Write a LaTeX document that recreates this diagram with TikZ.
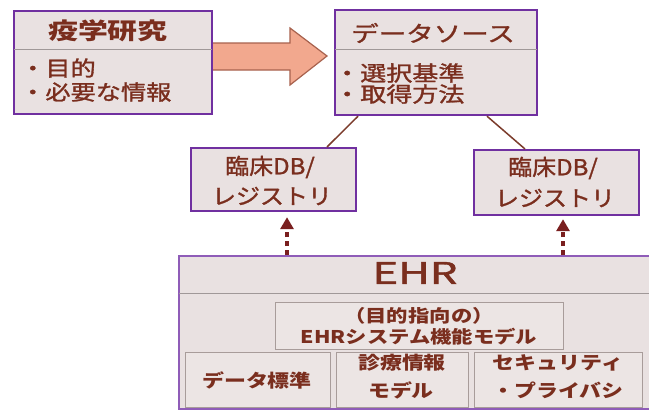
\documentclass[tikz,border=0pt]{standalone}
\usepackage{fontspec}
\setmainfont{Noto Sans CJK JP}
\newfontface\jpmid{Noto Sans CJK JP}[FakeBold=1.2]
\usetikzlibrary{arrows.meta}
\definecolor{boxfill}{HTML}{E9E1E1}
\definecolor{boxline}{HTML}{7030A0}
\definecolor{ehrline}{HTML}{8F5CB8}
\definecolor{txt}{HTML}{7A2E1E}
\definecolor{divline}{HTML}{A09898}
\definecolor{arrowfill}{HTML}{F2A88E}
\definecolor{arrowline}{HTML}{A8624E}
\definecolor{conn}{HTML}{7B3B2B}
\definecolor{dotc}{HTML}{7A1F1F}
\definecolor{innerline}{HTML}{A89C9A}
\definecolor{innerfill}{HTML}{ECE5E4}
\newcommand{\hsc}[2]{\scalebox{#1}[1]{#2}}
\newcommand{\fsz}[1]{\fontsize{#1}{#1}\selectfont}
\begin{document}
\begin{tikzpicture}[x=1pt,y=-1pt,
  mainbox/.style={draw=boxline,line width=2.2pt,fill=boxfill,inner sep=0pt,anchor=north west},
  ehrbox/.style={draw=ehrline,line width=2pt,fill=boxfill,inner sep=0pt,anchor=north west},
  innerbox/.style={draw=innerline,line width=1.1pt,fill=innerfill,inner sep=0pt,anchor=north west},
  divider/.style={draw=divline,line width=1pt},
  lbl/.style={inner sep=0pt,text=txt},
  conn/.style={draw=conn,line width=1.5pt},
  dotarr/.style={draw=dotc,line width=4pt,dash pattern=on 5pt off 4pt,-{Triangle[width=13pt,length=12pt]}},
  blockarrow/.style={fill=arrowfill,draw=arrowline,line width=1.2pt,line join=miter}
]
\useasboundingbox (0,0) rectangle (649,410);
\fill[white] (0,0) rectangle (649,410);

% block arrow
\draw[blockarrow] (205,43) -- (290,43) -- (290,28) -- (327,56) -- (290,85) -- (290,70) -- (205,70) -- cycle;

% box 1
\node[mainbox,minimum width=198pt,minimum height=103pt] (b1) at (13,10) {};
\draw[divider] ([yshift=-39pt,xshift=1.1pt]b1.north west) -- ([yshift=-39pt,xshift=-1.1pt]b1.north east);
\node[lbl] (t1) at (108,31) {\fsz{23}\bfseries\hsc{1.3}{疫学研究}};
\node[lbl,anchor=west] (b1a) at (20,68) {\fsz{21}\jpmid\hsc{1.2}{・目的}};
\node[lbl,anchor=west] (b1b) at (20,92) {\fsz{21}\jpmid\hsc{1.2}{・必要な情報}};

% box 2
\node[mainbox,minimum width=202pt,minimum height=105pt] (b2) at (334,9) {};
\draw[divider] ([yshift=-40pt,xshift=1.1pt]b2.north west) -- ([yshift=-40pt,xshift=-1.1pt]b2.north east);
\node[lbl] (t2) at (433,33) {\fsz{22}\jpmid\hsc{1.25}{データソース}};
\node[lbl,anchor=west] (b2a) at (334,73) {\fsz{21}\jpmid\hsc{1.24}{・選択基準}};
\node[lbl,anchor=west] (b2b) at (334,94) {\fsz{21}\jpmid\hsc{1.24}{・取得方法}};

% DB boxes
\node[mainbox,minimum width=165pt,minimum height=63pt] (dbL) at (190,147) {};
\node[lbl] (dbLa) at (270,167) {\fsz{22}\jpmid\hsc{1.09}{臨床DB/}};
\node[lbl] (dbLb) at (272,196) {\fsz{22}\jpmid\hsc{1.09}{レジストリ}};
\node[mainbox,minimum width=165pt,minimum height=65pt] (dbR) at (473,149) {};
\node[lbl] (dbRa) at (553,168) {\fsz{22}\jpmid\hsc{1.09}{臨床DB/}};
\node[lbl] (dbRb) at (555,198) {\fsz{22}\jpmid\hsc{1.09}{レジストリ}};

% connectors from data source
\draw[conn] ([xshift=24pt]b2.south west) -- ([xshift=137pt]dbL.north west);
\draw[conn] ([xshift=153pt]b2.south west) -- ([xshift=52pt]dbR.north west);

% EHR box
\node[ehrbox,minimum width=490pt,minimum height=153pt] (ehr) at (178,255) {};
\draw[divider] (179,293) -- (649,293);
\node[lbl] (ehrt) at (415,273) {\fsz{30}\jpmid\hsc{1.45}{EHR}};

\node[innerbox,minimum width=288pt,minimum height=47pt] (sys) at (275,302) {};
\node[lbl] (sysa) at (419,316) {\fsz{17.5}\bfseries\hsc{1.22}{（目的指向の）}};
\node[lbl] (sysb) at (419,337) {\fsz{17.5}\bfseries\hsc{1.22}{EHRシステム機能モデル}};

\node[innerbox,minimum width=145pt,minimum height=55pt] (std) at (185,352) {};
\node[lbl] (stdt) at (257,380) {\fsz{18}\bfseries\hsc{1.22}{データ標準}};
\node[innerbox,minimum width=132pt,minimum height=55pt] (mdl) at (336,352) {};
\node[lbl] (mdla) at (402,363) {\fsz{18}\bfseries\hsc{1.22}{診療情報}};
\node[lbl] (mdlb) at (401,390) {\fsz{18}\bfseries\hsc{1.22}{モデル}};
\node[innerbox,minimum width=168pt,minimum height=55pt] (sec) at (474,352) {};
\node[lbl] (seca) at (558,363) {\fsz{18}\bfseries\hsc{1.22}{セキュリティ}};
\node[lbl] (secb) at (558,390) {\fsz{18}\bfseries\hsc{1.22}{・プライバシ}};

% dotted arrows
\coordinate (aL) at (287,255);
\coordinate (aR) at (563,255);
\draw[dotarr,shorten >=5pt] (aL) -- (aL |- dbL.south);
\draw[dotarr,shorten >=3pt] (aR) -- (aR |- dbR.south);
\end{tikzpicture}
\end{document}
